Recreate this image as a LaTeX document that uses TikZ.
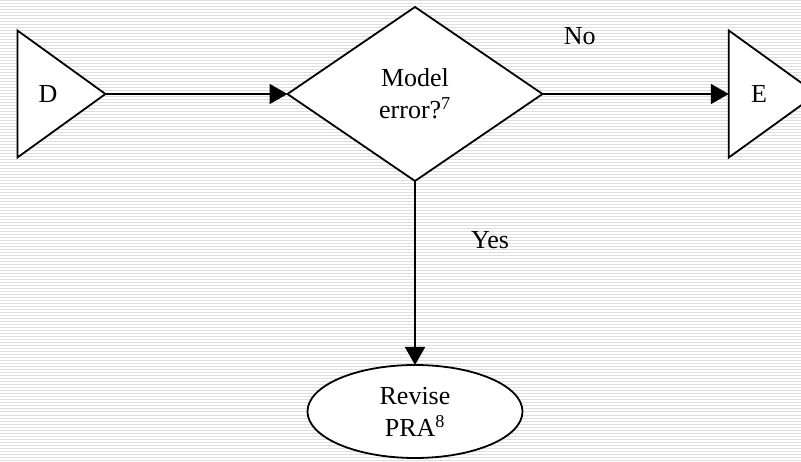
\documentclass[tikz,border=0pt]{standalone}
\usepackage{fontspec}
\setmainfont{Liberation Serif}
\usepackage{tikz}
\usetikzlibrary{arrows.meta,shapes.geometric,positioning}
\tikzstyle{edge}  =[-{Triangle[length=18pt,width=20pt]},
                    line width=1.8pt]
\tikzstyle{box}   =[draw, fill=white, line width=1.8pt,
                    inner sep=0pt, outer sep=0pt]
\tikzstyle{gate}  =[box, isosceles triangle,
                    isosceles triangle stretches,
                    minimum width=127pt, minimum height=88pt]
\tikzstyle{stripe}=[black!13, line width=1pt]

\begin{document}
\begin{tikzpicture}[font=\fontsize{26}{32}\selectfont, node distance=1cm,
            on grid, align=center]
                \clip (0pt,0pt) rectangle (801pt,-462pt);
                \foreach \y in {1,4,...,462}
                    \draw[stripe] (0pt,-\y pt) -- (801pt,-\y pt);

                \node[box, diamond, minimum width=255pt,
                      minimum height=174pt] (dia) at (415pt,-94pt)
                      {Model\\error?\textsuperscript{7}};
                \node[gate] (D) [left=367pt of dia] {D};
                \node[gate] (E) [right=344pt of dia] {E};
                \node[box, ellipse, minimum width=215pt,
                      minimum height=93pt] (rev) [below=317.5pt of dia]
                      {Revise\\PRA\textsuperscript{8}};

                \draw[edge] (D.apex) to (dia.west);
                \draw[edge] (dia.east) to node[pos=0.2, yshift=58pt] (no) {No} (E.west);
                \draw[edge] (dia.south) to node[pos=0.32, xshift=75pt] (yes) {Yes} (rev.north);
        \end{tikzpicture}
\end{document}
